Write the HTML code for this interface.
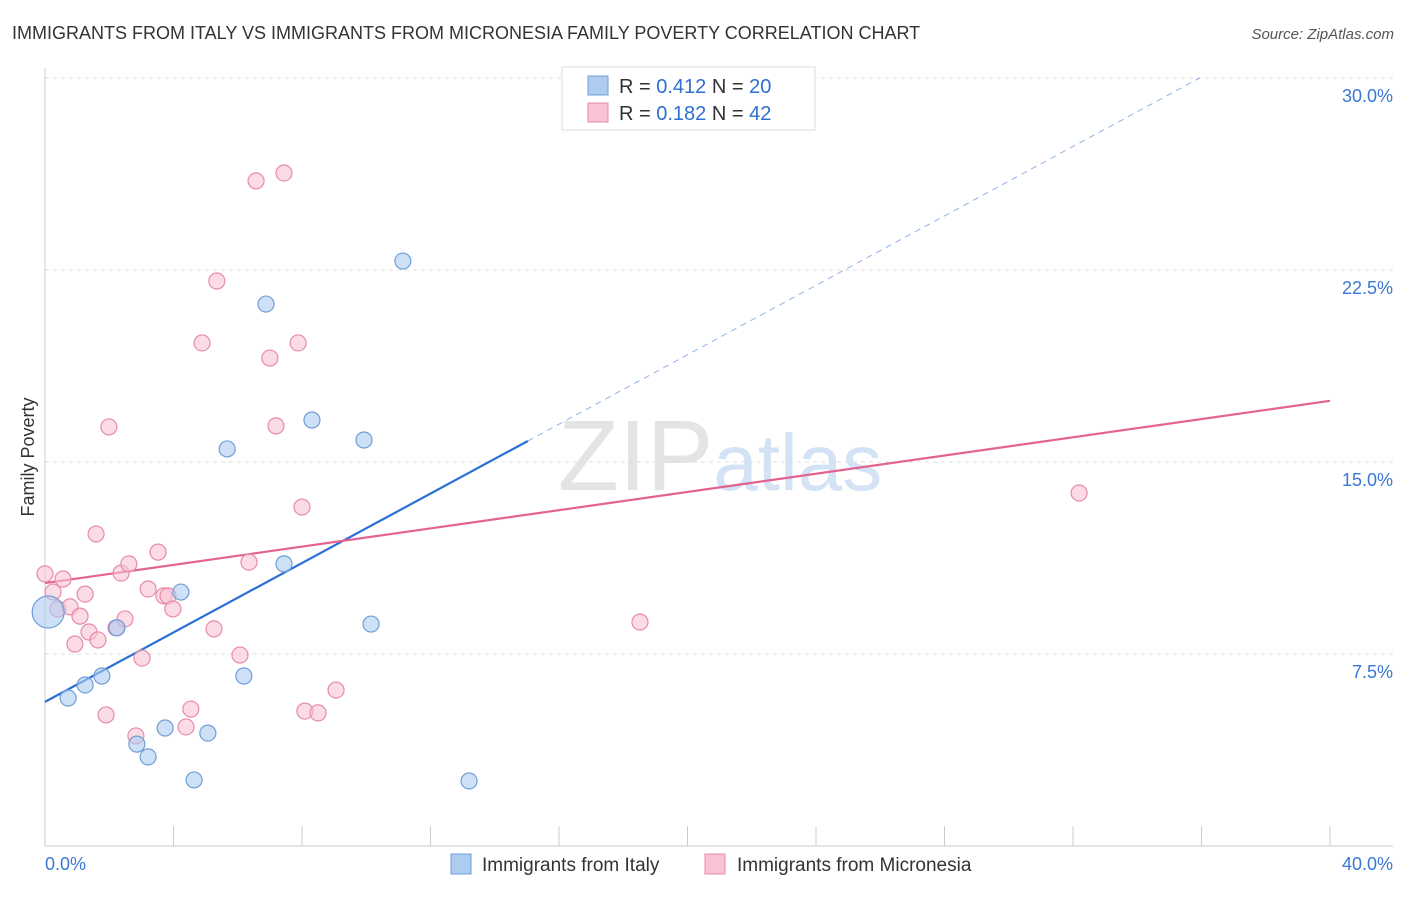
<!DOCTYPE html>
<html><head><meta charset="utf-8"><style>
body{margin:0;background:#fff;font-family:"Liberation Sans",sans-serif;}
svg text{font-family:"Liberation Sans",sans-serif;}
</style></head><body>
<svg id="chart" width="1406" height="892" xmlns="http://www.w3.org/2000/svg">
<text x="12" y="39" font-size="18" fill="#333">IMMIGRANTS FROM ITALY VS IMMIGRANTS FROM MICRONESIA FAMILY POVERTY CORRELATION CHART</text>
<text x="1394" y="39" font-size="15" fill="#555" text-anchor="end" font-style="italic">Source: ZipAtlas.com</text>
<text x="720" y="490" font-size="100" text-anchor="middle" fill="#e4e4e4" font-family="Liberation Serif">ZIP<tspan fill="#d3e2f4" font-family="Liberation Sans" font-size="80">atlas</tspan></text>
<g id="grid"></g>
<g id="axes"></g>
<g id="lines"></g>
<g id="points"></g>
<text transform="translate(34,457) rotate(-90)" font-size="18" fill="#333" text-anchor="middle">Family Poverty</text>
<g>
<rect x="562" y="67" width="253" height="63" fill="#fff" stroke="#ddd"/>
<rect x="588" y="76" width="20" height="19" fill="#aecbf0" stroke="#6f9fd8"/>
<rect x="588" y="103" width="20" height="19" fill="#f8c3d5" stroke="#e88aaa"/>
<text x="619" y="93" font-size="20" fill="#333">R = <tspan fill="#2f6fd0">0.412</tspan>   N = <tspan fill="#2f6fd0">20</tspan></text>
<text x="619" y="120" font-size="20" fill="#333">R = <tspan fill="#2f6fd0">0.182</tspan>   N = <tspan fill="#2f6fd0">42</tspan></text>
</g>
<g>
<rect x="451" y="854" width="20" height="20" fill="#aecbf0" stroke="#6f9fd8"/>
<text x="482" y="871" font-size="19" fill="#333">Immigrants from Italy</text>
<rect x="705" y="854" width="20" height="20" fill="#f8c3d5" stroke="#e88aaa"/>
<text x="737" y="871" font-size="19" fill="#333">Immigrants from Micronesia</text>
</g>
</svg>
<script>
const yTicks=[7.5,15,22.5,30];
const yTickLabels=["7.5%","15.0%","22.5%","30.0%"];
const xTickCount=[0,4,8,12,16,20,24,28,32,36,40];
const xLabels=["0.0%","40.0%"];
const italyX=[0.1,0.72,1.25,1.77,2.24,2.86,3.21,3.74,4.23,4.64,5.07,5.67,6.19,6.88,7.44,8.31,9.93,10.15,11.14,13.2];
const italyY=[9.14,5.78,6.29,6.64,8.52,3.98,3.48,4.61,9.92,2.58,4.41,15.51,6.64,21.17,11.02,16.64,15.86,8.67,22.85,2.54];
const micX=[0,0.25,0.56,0.4,0.78,0.93,1.09,1.25,1.37,1.59,1.65,1.9,1.99,2.21,2.37,2.49,2.61,2.83,3.02,3.21,3.52,3.7,3.83,3.98,4.39,4.54,4.89,5.26,5.35,6.07,6.35,6.57,7.0,7.19,7.44,7.88,8.0,8.09,8.5,9.06,18.52,32.19];
const micY=[10.63,9.92,10.43,9.26,9.34,7.89,8.98,9.84,8.36,12.19,8.05,5.12,16.37,8.52,10.66,8.87,11.02,4.3,7.34,10.04,11.48,9.77,9.77,9.26,4.65,5.35,19.65,8.48,22.07,7.46,11.09,25.98,19.06,16.41,26.29,19.65,13.24,5.27,5.2,6.09,8.75,13.79];
const italyTrend=[5.63,0.678];
const micTrend=[10.27,0.178];
const NS="http://www.w3.org/2000/svg";
const X=v=>45+v*32.125, Y=v=>846-v*25.6;
function mk(t,a,p){const e=document.createElementNS(NS,t);for(const k in a)e.setAttribute(k,a[k]);document.getElementById(p).appendChild(e);return e;}
yTicks.forEach((t,i)=>{
 const g=mk('line',{x1:45,x2:1393,y1:Y(t),y2:Y(t),stroke:'#ddd','stroke-dasharray':'4,4'},'grid');
 
 
 const l=mk('text',{x:1393,y:Y(t)+24,'font-size':18,fill:'#3b77d4','text-anchor':'end'},'axes');
 l.textContent=yTickLabels[i];
 
 
});
const ax=mk('line',{x1:45,x2:45,y1:68,y2:846,stroke:'#ccc'},'axes');


const bx=mk('line',{x1:45,x2:1393,y1:846,y2:846,stroke:'#ccc'},'axes');


xTickCount.forEach(t=>{
 const tk=mk('line',{x1:X(t),x2:X(t),y1:826,y2:846,stroke:'#ccc'},'axes');
 
 
});
const xl0=mk('text',{x:45,y:870,'font-size':18,fill:'#3b77d4'},'axes');xl0.textContent=xLabels[0];


const xl1=mk('text',{x:1393,y:870,'font-size':18,fill:'#3b77d4','text-anchor':'end'},'axes');xl1.textContent=xLabels[1];


// trend lines
const ib=italyTrend[0],is=italyTrend[1];
const xEndSolid=15.03, xEnd=Math.min(40,(30-ib)/is);
const l1=mk('line',{x1:X(0),y1:Y(ib),x2:X(xEndSolid),y2:Y(ib+is*xEndSolid),stroke:'#2a6fd6','stroke-width':2.2},'lines');


const l2=mk('line',{x1:X(xEndSolid),y1:Y(ib+is*xEndSolid),x2:X(xEnd),y2:Y(ib+is*xEnd),stroke:'#8fb3e6','stroke-width':1,'stroke-dasharray':'6,5'},'lines');


const l3=mk('line',{x1:X(0),y1:Y(micTrend[0]),x2:X(40),y2:Y(micTrend[0]+micTrend[1]*40),stroke:'#e4628f','stroke-width':2.2},'lines');


micX.forEach((x,i)=>{
 const c=mk('circle',{cx:X(x),cy:Y(micY[i]),r:8,fill:'#f8c3d5','fill-opacity':0.6,stroke:'#e88aaa','stroke-width':1.2},'points');
 
 
});
italyX.forEach((x,i)=>{
 const c=mk('circle',{cx:X(x),cy:Y(italyY[i]),r:i===0?16:8,fill:'#aecbf0','fill-opacity':0.6,stroke:'#6f9fd8','stroke-width':1.2},'points');
 
 
});
</script>
</body></html>
